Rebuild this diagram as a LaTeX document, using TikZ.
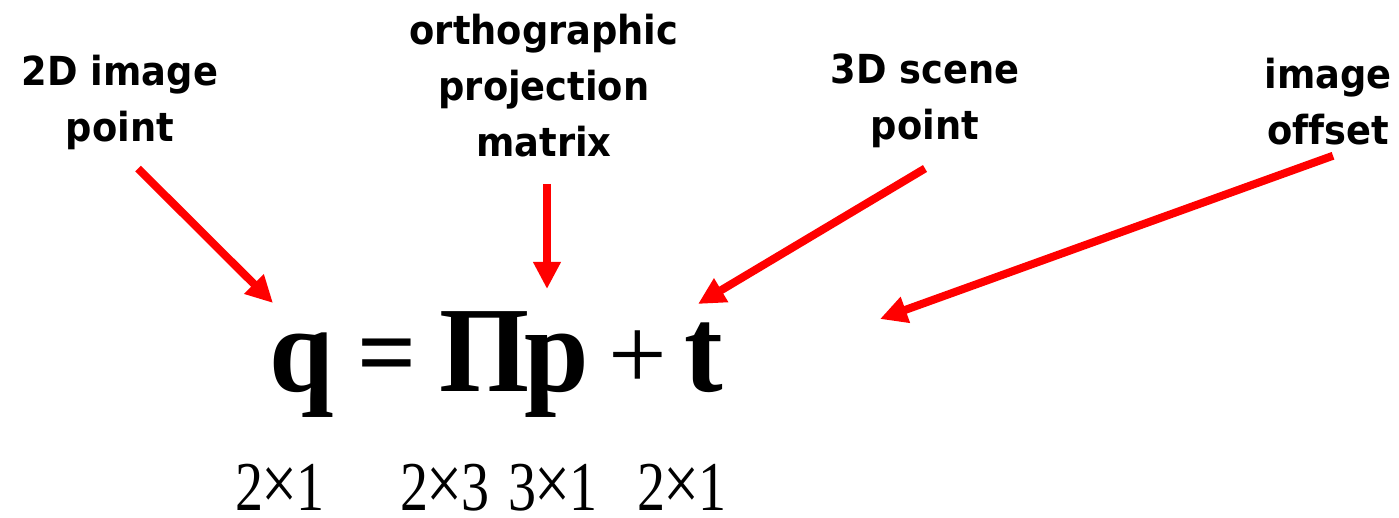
\documentclass[tikz,border=0pt]{standalone}
\usepackage{fontspec}
\usetikzlibrary{arrows.meta}
\newfontfamily\lblfont{DejaVu Sans}[FakeStretch=0.92,Ligatures=NoCommon]
\newfontfamily\eqfont{Liberation Serif}[FakeStretch=0.95]
\newfontfamily\dimfont{Liberation Serif}[FakeStretch=0.8]
\newfontfamily\opfont{Liberation Serif}
\definecolor{arrowred}{HTML}{FF0000}

\tikzset{
  lbl/.style={font=\lblfont\bfseries\fontsize{40}{56}\selectfont, align=center, inner sep=0pt, anchor=base},
  sym/.style={font=\eqfont\bfseries\fontsize{122}{122}\selectfont, inner sep=0pt, anchor=base},
  op/.style={font=\opfont\fontsize{104}{104}\selectfont, inner sep=0pt, anchor=base},
  dims/.style={font=\dimfont\fontsize{70}{70}\selectfont, inner sep=0pt, anchor=base},
  redarrow/.style={draw=arrowred, line width=8pt, -{Triangle[length=27pt,width=26pt]}},
}
\newcommand{\dimsz}[2]{#1\kern-2pt{\fontsize{80}{80}\selectfont×}\kern-2pt#2}

\begin{document}
\begin{tikzpicture}[x=1pt,y=-1pt]
    \useasboundingbox (0,0) rectangle (1399,518);

    % Labels above the equation
    \node[lbl] (lbl2d) at (120,142) {2D image\\point};
    \node[lbl] (lblortho) at (544,157) {orthographic\\projection\\matrix};
    \node[lbl] (lbl3d) at (925,140) {3D scene\\point};
    \node[lbl] (lbloff) at (1328,145) {image\\offset};

    % Equation q = Pi p + t
    \node[sym] (qsym) at (302,391) {q};
    \node[op, font=\opfont\bfseries\fontsize{104}{104}\selectfont] (eqsign) at (387,387) {=};
    \node[sym] (pimat) at (485,391) {Π};
    \node[sym] (pvec) at (557,391) {p};
    \node[op] (plus) at (638,389) {+};
    \node[sym] (tvec) at (704,391) {t};

    % Sizes below
    \node[dims] (dimq) at (280,510) {\dimsz{2}{1}};
    \node[dims] (dimpi) at (445,510) {\dimsz{2}{3}};
    \node[dims] (dimp) at (553,510) {\dimsz{3}{1}};
    \node[dims] (dimt) at (682,510) {\dimsz{2}{1}};

    % Arrow tips
    \coordinate (qtip) at (273,303);
    \coordinate (pitip) at (547,289);
    \coordinate (ptip) at (698,304);
    \coordinate (ttip) at (880,319);

    \draw[redarrow] ([xshift=18pt,yshift=-18pt]lbl2d.south) -- (qtip);
    \draw[redarrow] ([xshift=3pt,yshift=-26pt]lblortho.south) -- (pitip);
    \draw[redarrow] ([yshift=-20pt]lbl3d.south) -- (ptip);
    \draw[redarrow] ([xshift=5pt,yshift=-10pt]lbloff.south) -- (ttip);

\end{tikzpicture}
\end{document}
